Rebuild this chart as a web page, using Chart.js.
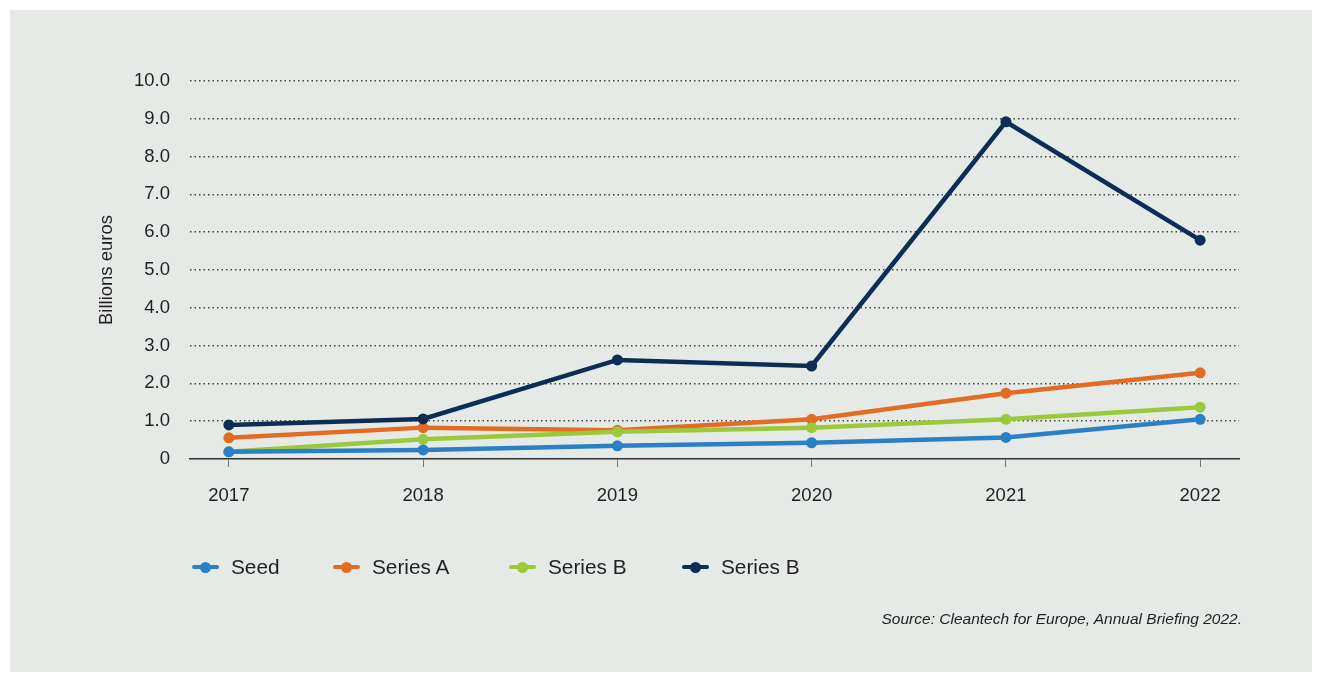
<!DOCTYPE html>
<html>
<head>
<meta charset="utf-8">
<script src="https://cdn.jsdelivr.net/npm/chart.js@4.4.0/dist/chart.umd.min.js"></script>
<style>
html,body{margin:0;padding:0;background:#fff;width:1322px;height:675px;overflow:hidden;font-family:"Liberation Sans",Arial,sans-serif}
#panel{position:absolute;left:10px;top:10px;width:1302px;height:662px;background:#e5eae6}
#c{position:absolute;left:0;top:0}
.leg{position:absolute;top:556px;height:22px;display:flex;align-items:center;font-size:20.8px;color:#231f20;white-space:nowrap}
.mk{position:relative;width:27px;height:22px;margin-right:12px}
.mk .ln{position:absolute;left:0;top:9px;width:27px;height:4px;border-radius:2px}
.mk .dt{position:absolute;left:8px;top:5.5px;width:11px;height:11px;border-radius:50%}
#src{position:absolute;right:80px;top:610px;font-style:italic;font-size:15.5px;color:#231f20;white-space:nowrap}
</style>
</head>
<body>
<div id="panel"></div>
<canvas id="c" width="1322" height="675"></canvas>
<div id="legend"></div>
<div id="src">Source: Cleantech for Europe, Annual Briefing 2022.</div>
<script>
// ---- data ----
const years = [2017, 2018, 2019, 2020, 2021, 2022];
const seriesNames = ["Seed", "Series A", "Series B", "Series B"];
const seed = [0.19, 0.24, 0.35, 0.43, 0.57, 1.05];
const seriesA = [0.56, 0.83, 0.76, 1.05, 1.74, 2.28];
const seriesB = [0.19, 0.52, 0.72, 0.83, 1.05, 1.37];
const seriesBLate = [0.90, 1.06, 2.62, 2.46, 8.92, 5.79];
const yTickValues = [0, 1, 2, 3, 4, 5, 6, 7, 8, 9, 10];
const yTitle = "Billions euros";

// ---- styles ----
const colors = ["#2a80c6", "#e36c24", "#9bc93b", "#0e2d55"];
const drawOrder = [1, 3, 2, 0];
const legendLeft = [192, 333, 509, 682];

const allSeries = [seed, seriesA, seriesB, seriesBLate];
const datasets = allSeries.map((vals, i) => ({
  label: seriesNames[i],
  data: vals.map((v, j) => ({x: years[j], y: v})),
  borderColor: colors[i],
  backgroundColor: colors[i],
  pointBackgroundColor: colors[i],
  pointBorderWidth: 0,
  pointRadius: 5.5,
  borderWidth: 4.5,
  tension: 0,
  order: drawOrder[i],
  clip: false
}));

const tickFont = {family: "'Liberation Sans', Arial, sans-serif", size: 18.5};

new Chart(document.getElementById('c'), {
  type: 'line',
  data: {datasets},
  options: {
    responsive: false,
    animation: false,
    devicePixelRatio: 1,
    layout: {padding: {left: 92, right: 83, top: 81, bottom: 166}},
    plugins: {legend: {display: false}, tooltip: {enabled: false}},
    scales: {
      x: {
        type: 'linear',
        min: 2016.8,
        max: 2022.2,
        afterBuildTicks: s => { s.ticks = years.map(v => ({value: v})); },
        afterFit: s => { s.height = 50; },
        grid: {drawOnChartArea: false, drawTicks: true, tickLength: 8, tickColor: '#777', tickWidth: 1},
        border: {display: true, color: '#333', width: 1.5},
        ticks: {font: tickFont, color: '#231f20', padding: 18, autoSkip: false, maxRotation: 0,
                callback: v => String(v)}
      },
      y: {
        min: 0,
        max: 10,
        afterBuildTicks: s => { s.ticks = yTickValues.map(v => ({value: v})); },
        afterFit: s => { s.width = 98; },
        grid: {drawTicks: false, lineWidth: 1.5,
               color: ctx => (ctx.tick && ctx.tick.value === 0) ? 'rgba(0,0,0,0)' : '#444'},
        border: {display: false, dash: [1.5, 3]},
        ticks: {font: tickFont, color: '#231f20', padding: 20,
                callback: v => v === 0 ? '0' : v.toFixed(1)},
        title: {display: true, text: yTitle, font: tickFont, color: '#231f20', padding: {top: 4, bottom: 4}}
      }
    }
  }
});

// ---- legend ----
const leg = document.getElementById('legend');
seriesNames.forEach((name, i) => {
  const d = document.createElement('div');
  d.className = 'leg';
  d.style.left = legendLeft[i] + 'px';
  d.innerHTML = '<span class="mk"><span class="ln" style="background:' + colors[i] + '"></span><span class="dt" style="background:' + colors[i] + '"></span></span><span></span>';
  d.lastChild.textContent = name;
  leg.appendChild(d);
});
</script>
</body>
</html>
